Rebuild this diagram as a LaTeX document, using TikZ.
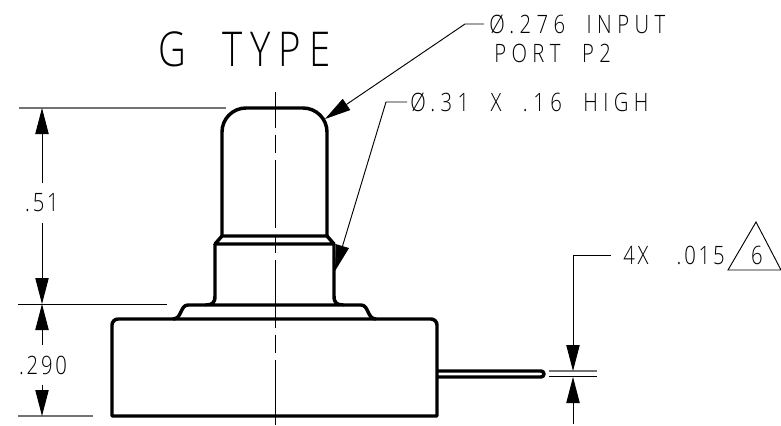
\documentclass[tikz,border=0pt]{standalone}
\usepackage{fontspec}
\usepackage{tikz}
\usetikzlibrary{arrows.meta}
\newfontfamily\dwgfont[FakeStretch=0.8,LetterSpace=21.5,WordSpace=2]{Open Sans Light}
\newfontfamily\dwgnumfont[FakeStretch=0.8,LetterSpace=11,WordSpace=3.5]{Open Sans Light}
\newfontfamily\dwgbigfont[FakeStretch=0.8,LetterSpace=17,WordSpace=2]{Open Sans Light}
\newcommand{\dwgsmall}{\dwgfont\fontsize{19pt}{20pt}\selectfont}
\newcommand{\dwgnum}{\dwgnumfont\fontsize{19pt}{20pt}\selectfont}
\newcommand{\dwgbig}{\dwgbigfont\fontsize{36pt}{38pt}\selectfont}
\tikzset{
	body/.style = {line width=2.6pt, line join=round},
	thinline/.style = {line width=0.7pt},
	extline/.style = {line width=0.8pt, black!55},
	dimtip/.style = {-{Triangle[length=19.5pt,width=10pt]}},
	label/.style = {inner sep=0pt, anchor=west},
	dimlabel/.style = {inner sep=0pt, minimum height=29pt},
}

\begin{document}
\begin{tikzpicture}[x=0.75pt,y=-0.75pt]
	\useasboundingbox (0,0) rectangle (781,425);
	% part outline
	\draw[body] (222,236) -- (222,132) arc[start angle=180,end angle=270,radius=24] -- (303,108) arc[start angle=270,end angle=360,radius=24] -- (327,236);
	\draw[body] (222,236) -- (327,236) -- (334,244) -- (215,244) -- cycle;
	\draw[body] (215,244) -- (215,296) .. controls (215,303) and (212,305) .. (206,305) -- (343,305) .. controls (337,305) and (334,303) .. (334,296) -- (334,244);
	\draw[body] (206,305) -- (188,305) .. controls (180,305) and (182,319) .. (173,319);
	\draw[body] (343,305) -- (361,305) .. controls (369,305) and (367,319) .. (376,319);
	\draw[body] (118,319) -- (431,319) arc[start angle=270,end angle=360,radius=6] -- (437,416) -- (112,416) -- (112,325) arc[start angle=180,end angle=270,radius=6];
	\draw[body] (437,371) -- (541,371) arc[start angle=270,end angle=450,radius=3] -- (437,377);
	\draw[thinline,dash pattern=on 51pt off 5pt on 14pt off 5pt,dash phase=24pt] (275,92) -- (275,425);
	% extension lines
	\draw[extline] (19,108) -- (226,108);
	\draw[thinline] (18,304) -- (167,304);
	\draw[extline] (18,416) -- (93,416);
	\draw[extline] (549,371) -- (597,371);
	\draw[thinline] (549,376) -- (597,376);
	% named points
	\coordinate (topA) at (42,108);
	\coordinate (midA) at (42,304);
	\coordinate (botA) at (42,416);
	\coordinate (tipcap) at (325,119);
	\coordinate (kneecap) at (465,24);
	\coordinate (endcap) at (484,24);
	\coordinate (tipneck) at (335,271);
	\coordinate (kneeneck) at (386,102);
	\coordinate (endneck) at (407,102);
	\coordinate (tiptop) at (573,371);
	\coordinate (kneelead) at (573,255);
	\coordinate (endlead) at (611,255);
	\coordinate (tipbot) at (573,377);
	\coordinate (freebot) at (573,424);
	% dimensions
	\node[dimlabel] (dimA) at (42,203) {\dwgnum .51};
	\node[dimlabel] (dimB) at (43,365) {\dwgnum .290};
	\draw[thinline,dimtip] (dimA.north) -- (topA);
	\draw[thinline,dimtip] (dimA.south) -- (midA);
	\draw[thinline,dimtip] ([xshift=-0.75pt]dimB.north) -- (midA);
	\draw[thinline,dimtip] ([xshift=-0.75pt]dimB.south) -- (botA);
	% notes
	\node[label] (title) at (158,49) {\dwgbig G TYPE};
	\node[label] (notecap) at (489,24) {\dwgsmall Ø.276 INPUT};
	\node[label] (noteport) at (494,53) {\dwgsmall PORT P2};
	\node[label] (noteneck) at (410,102) {\dwgsmall Ø.31 X .16 HIGH};
	\node[label] (notelead) at (623,255) {\dwgnum 4X .015};
	\node[inner sep=0pt] (six) at (757,255) {\dwgnum 6};
	\coordinate (triA) at (756,222);
	\coordinate (triB) at (728,270);
	\coordinate (triC) at (781,270);
	\draw[thinline] (triB) -- (triA) -- (triC) -- cycle;
	% leaders
	\draw[thinline,dimtip] (endcap) -- (kneecap) -- (tipcap);
	\draw[thinline,dimtip] (endneck) -- (kneeneck) -- (tipneck);
	\draw[thinline,dimtip] (endlead) -- (kneelead) -- (tiptop);
	\draw[thinline,dimtip] (freebot) -- (tipbot);
\end{tikzpicture}
\end{document}
